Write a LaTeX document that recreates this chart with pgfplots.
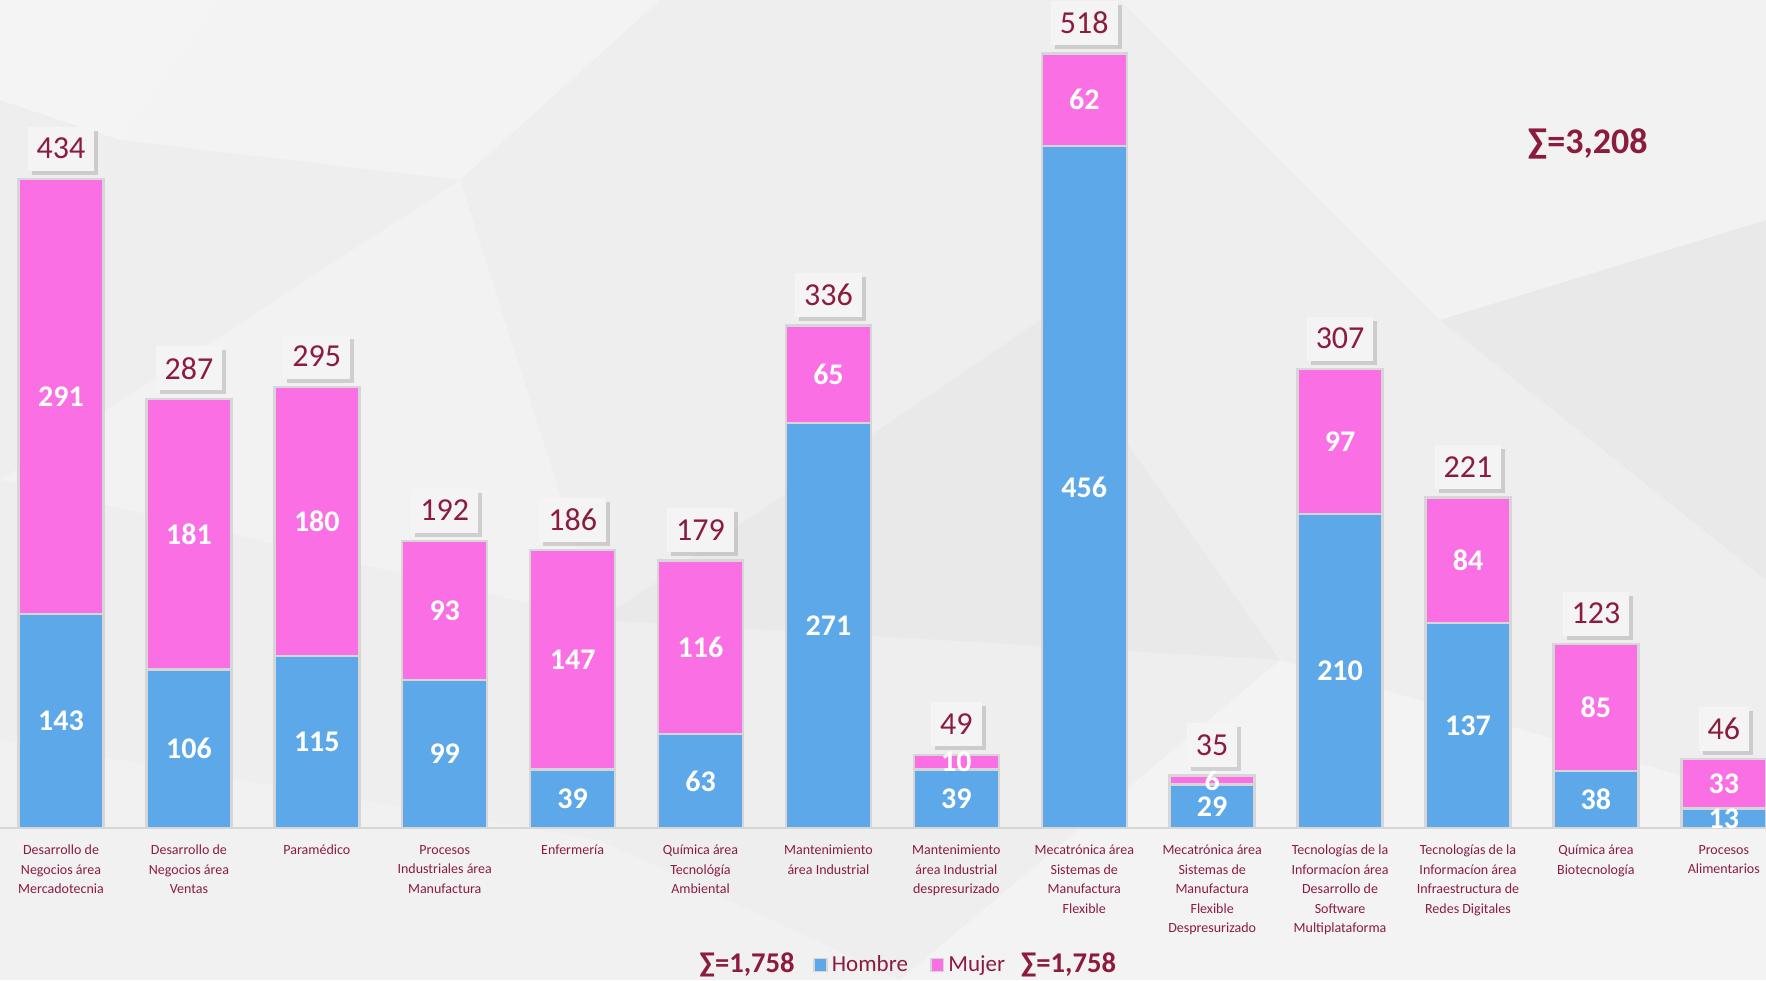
\documentclass[border=0pt]{standalone}
\usepackage{pgfplots}
\pgfplotsset{compat=1.18}
\usepackage{pgfplotstable}
\usepackage{fontspec}
\setmainfont{Carlito}
\usetikzlibrary{shadows}
\definecolor{hblue}{RGB}{93,168,232}
\definecolor{mpink}{RGB}{250,112,228}
\definecolor{dred}{RGB}{140,28,62}
\definecolor{bgray}{RGB}{238,238,238}
\definecolor{edgegray}{RGB}{214,214,214}
\definecolor{boxfill}{RGB}{244,244,244}

\pgfplotstableread{
x h m t
0 143 291 434
1 106 181 287
2 115 180 295
3 99 93 192
4 39 147 186
5 63 116 179
6 271 65 336
7 39 10 49
8 456 62 518
9 29 6 35
10 210 97 307
11 137 84 221
12 38 85 123
13 13 33 46
}\datatable

\pgfplotsset{
  common/.style={
    at={(0pt,76pt)}, anchor=south west,
    scale only axis, width=883pt, height=414pt,
    xmin=-0.477, xmax=13.33, ymin=0, ymax=553.8,
    clip=false,
    /pgf/number format/assume math mode=true,
  }
}

\begin{document}
\begin{tikzpicture}
\useasboundingbox (0,0) rectangle (883pt,490pt);
\fill[bgray] (0,0) rectangle (883pt,490pt);
% faint background facets
\fill[white,opacity=0.40] (0,490pt) -- (110pt,490pt) -- (60pt,420pt) -- (0,440pt) -- cycle;
\fill[white,opacity=0.30] (110pt,490pt) -- (330pt,490pt) -- (230pt,400pt) -- (60pt,420pt) -- cycle;
\fill[white,opacity=0.25] (560pt,490pt) -- (883pt,490pt) -- (883pt,380pt) -- (720pt,330pt) -- cycle;
\fill[black,opacity=0.02] (720pt,330pt) -- (883pt,380pt) -- (883pt,200pt) -- cycle;
\fill[white,opacity=0.25] (0,250pt) -- (230pt,400pt) -- (300pt,180pt) -- cycle;
\fill[white,opacity=0.20] (0,0) -- (450pt,0) -- (300pt,70pt) -- (0,120pt) -- cycle;
\fill[white,opacity=0.30] (450pt,0) -- (883pt,0) -- (883pt,90pt) -- (640pt,160pt) -- cycle;
\fill[black,opacity=0.02] (300pt,180pt) -- (520pt,330pt) -- (640pt,160pt) -- cycle;

\begin{axis}[
  common,
  ybar stacked, bar width=42.5pt,
  axis y line=none, axis x line*=bottom,
  x axis line style={draw=edgegray, line width=1.2pt, -},
  xtick=data, major tick length=0pt,
  xticklabels={
    {Desarrollo de\\Negocios área\\Mercadotecnia},
    {Desarrollo de\\Negocios área\\Ventas},
    {Paramédico},
    {Procesos\\Industriales área\\Manufactura},
    {Enfermería},
    {Química área\\Tecnológía\\Ambiental},
    {Mantenimiento\\área Industrial},
    {Mantenimiento\\área Industrial\\despresurizado},
    {Mecatrónica área\\Sistemas de\\Manufactura\\Flexible},
    {Mecatrónica área\\Sistemas de\\Manufactura\\Flexible\\Despresurizado},
    {Tecnologías de la\\Informacíon área\\Desarrollo de\\Software\\Multiplataforma},
    {Tecnologías de la\\Informacíon área\\Infraestructura de\\Redes Digitales},
    {Química área\\Biotecnología},
    {Procesos\\Alimentarios}},
  xticklabel style={align=center, font=\fontsize{7}{9.75}\selectfont, text=dred, anchor=north, yshift=-5pt},
  nodes near coords,
  every node near coord/.append style={anchor=center, text=white, font=\bfseries\fontsize{15}{18}\selectfont},
  legend columns=2,
  legend style={at={(0.516,-0.1655)}, anchor=center, draw=none, fill=none,
    font=\fontsize{11.5}{13}\selectfont, text=dred,
    /tikz/every even column/.append style={column sep=9pt}},
  legend image code/.code={\draw[#1, draw=edgegray, line width=0.8pt] (0pt,-3.2pt) rectangle (6.4pt,3.2pt);},
]
\addplot[fill=hblue, draw=edgegray, line width=1.2pt, point meta=explicit]
  table[x=x, y=h, meta=h] {\datatable};
\addlegendentry{Hombre}
\addplot[fill=mpink, draw=edgegray, line width=1.2pt, point meta=explicit]
  table[x=x, y=m, meta=m] {\datatable};
\addlegendentry{Mujer}
\node[font=\bfseries\fontsize{14.3}{16}\selectfont, text=dred] at (axis description cs:0.423,-0.1655) {∑=1,758};
\node[font=\bfseries\fontsize{14.3}{16}\selectfont, text=dred] at (axis description cs:0.605,-0.1655) {∑=1,758};
\node[font=\bfseries\fontsize{18}{20}\selectfont, text=dred] at (axis description cs:0.899,0.826) {∑=3,208};
\end{axis}

\begin{axis}[
  common, hide axis,
]
\addplot[draw=none, mark=none, point meta=explicit symbolic,
  nodes near coords,
  nodes near coords style={anchor=south, yshift=4pt, fill=boxfill, text=dred,
    font=\fontsize{16}{18}\selectfont, minimum height=22pt, inner xsep=4.5pt,
    drop shadow={shadow xshift=2pt, shadow yshift=-2pt, opacity=0.3, fill=gray}}]
  table[x=x, y=t, meta=t] {\datatable};
\end{axis}
\end{tikzpicture}
\end{document}
